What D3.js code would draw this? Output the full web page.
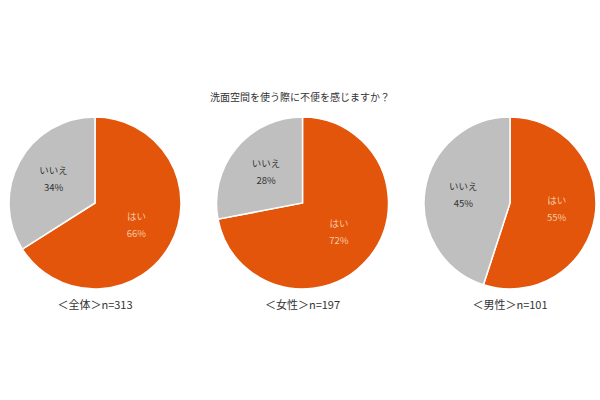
<!DOCTYPE html>
<html><head><meta charset="utf-8">
<script src="https://cdn.jsdelivr.net/npm/d3@7"></script>
<style>body{margin:0;background:#fff}</style>
</head><body><div id="chart"></div>
<script>
const groups = ["＜全体＞n=313", "＜女性＞n=197", "＜男性＞n=101"];
const answers = ["はい", "いいえ"];
const yesValues = [66, 72, 55];
const noValues = [34, 28, 45];
const colors = ["#e2550a", "#bfbfbf"];

const svg = d3.select("#chart").append("svg").attr("width", 600).attr("height", 400)
    .style("font-family", "'Noto Sans CJK JP', sans-serif");

svg.append("text").attr("x", 300).attr("y", 101).attr("text-anchor", "middle")
    .attr("font-size", 10).attr("fill", "#333").text("洗面空間を使う際に不便を感じますか？");

const x = d3.scalePoint().domain(groups).range([95, 510]);
const r = 86;
const pie = d3.pie().sort(null).value(d => d.v);
const arc = d3.arc().innerRadius(0).outerRadius(r);
const labelArc = d3.arc().innerRadius(r * 0.55).outerRadius(r * 0.55);

groups.forEach((g, i) => {
    const data = [{k: answers[0], v: yesValues[i]}, {k: answers[1], v: noValues[i]}];
    const gg = svg.append("g").attr("transform", `translate(${x(g)},203)`);
    const arcs = pie(data);
    gg.selectAll("path").data(arcs).enter().append("path")
        .attr("d", arc).attr("fill", (d, j) => colors[j])
        .attr("stroke", "#fff").attr("stroke-width", 1.5);
    arcs.forEach((d, j) => {
        const [cx, cy] = labelArc.centroid(d);
        const t = gg.append("text").attr("text-anchor", "middle").attr("font-size", 9.5)
            .attr("fill", j === 0 ? "#f6c9a6" : "#333");
        t.append("tspan").attr("x", cx).attr("y", cy - 6).text(d.data.k);
        t.append("tspan").attr("x", cx).attr("y", cy + 11).text(d.data.v + "%");
    });
    svg.append("text").attr("x", x(g)).attr("y", 309).attr("text-anchor", "middle")
        .attr("font-size", 11).attr("fill", "#333").text(g);
});
</script></body></html>
